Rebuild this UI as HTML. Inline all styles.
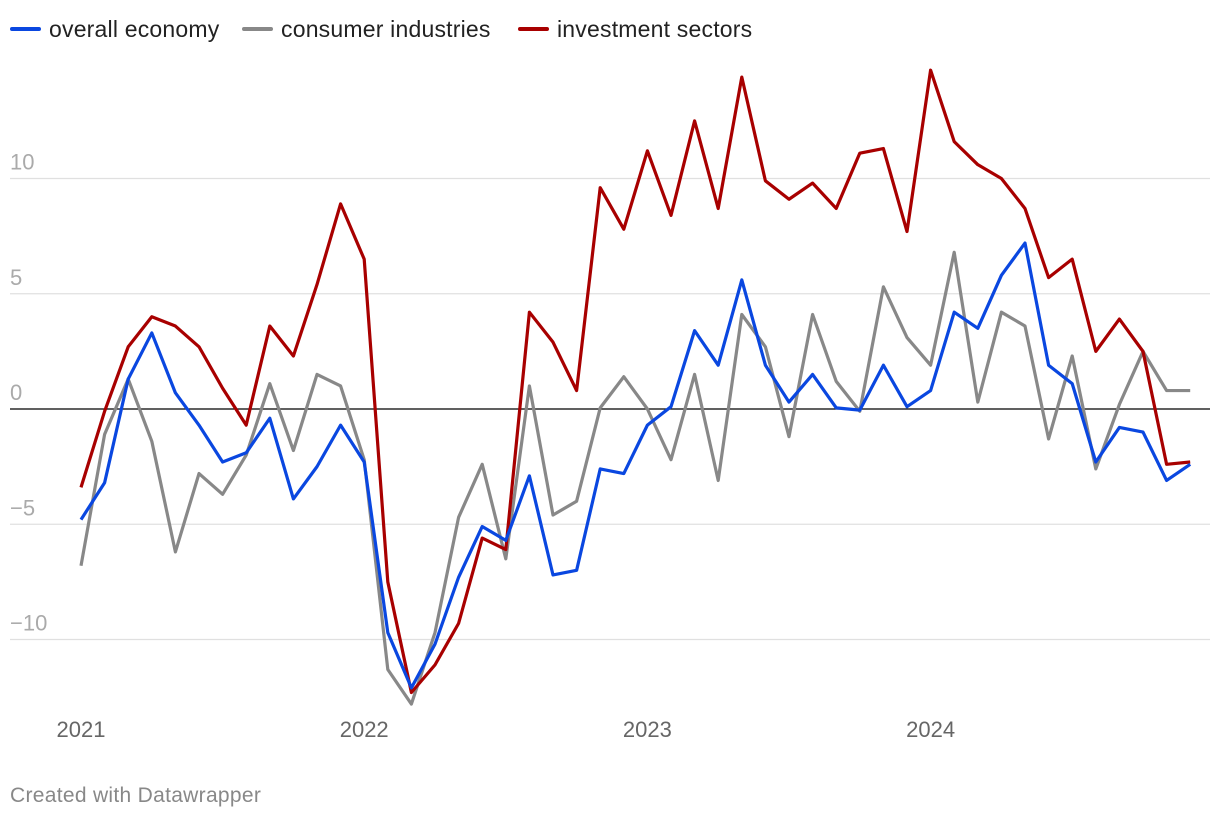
<!DOCTYPE html>
<html><head><meta charset="utf-8"><style>
body{margin:0;background:#fff;font-family:"Liberation Sans",sans-serif;}
#wrap{position:relative;width:1220px;height:820px;}
.leg{position:absolute;top:16px;font-size:23px;color:#222;white-space:nowrap;letter-spacing:0.2px}
.sw{display:inline-block;width:31px;height:4px;border-radius:2px;vertical-align:middle;margin-right:8px;position:relative;top:-2px}
</style></head><body>
<div id="wrap">
<div class="leg" style="left:10px"><span class="sw" style="background:#0a47e0"></span>overall economy</div>
<div class="leg" style="left:242px"><span class="sw" style="background:#888"></span>consumer industries</div>
<div class="leg" style="left:518px"><span class="sw" style="background:#a80000"></span>investment sectors</div>
<svg id="svg" width="1220" height="820" style="position:absolute;left:0;top:0"></svg>
<div style="position:absolute;left:10px;top:784px;font-size:21px;color:#888;letter-spacing:0.3px">Created with Datawrapper</div>
</div>
<script>
const yTicks=[10,5,0,-5,-10];
const yTickLabels=["10","5","0","\u22125","\u221210"];
const xTicks=[0,12,24,36];
const xTickLabels=["2021","2022","2023","2024"];
const overall=[-4.8,-3.2,1.3,3.3,0.7,-0.7,-2.3,-1.9,-0.4,-3.9,-2.5,-0.7,-2.3,-9.7,-12.1,-10.2,-7.3,-5.1,-5.7,-2.9,-7.2,-7.0,-2.6,-2.8,-0.7,0.1,3.4,1.9,5.6,1.9,0.3,1.5,0.05,-0.05,1.9,0.1,0.8,4.2,3.5,5.8,7.2,1.9,1.1,-2.3,-0.8,-1.0,-3.1,-2.4];
const consumer=[-6.8,-1.1,1.3,-1.4,-6.2,-2.8,-3.7,-2.0,1.1,-1.8,1.5,1.0,-2.2,-11.3,-12.8,-9.7,-4.7,-2.4,-6.5,1.0,-4.6,-4.0,0.05,1.4,0,-2.2,1.5,-3.1,4.1,2.7,-1.2,4.1,1.2,-0.1,5.3,3.1,1.9,6.8,0.3,4.2,3.6,-1.3,2.3,-2.6,0.2,2.5,0.8,0.8];
const investment=[-3.4,-0.1,2.7,4.0,3.6,2.7,0.9,-0.7,3.6,2.3,5.4,8.9,6.5,-7.5,-12.3,-11.1,-9.3,-5.6,-6.1,4.2,2.9,0.8,9.6,7.8,11.2,8.4,12.5,8.7,14.4,9.9,9.1,9.8,8.7,11.1,11.3,7.7,14.7,11.6,10.6,10.0,8.7,5.7,6.5,2.5,3.9,2.5,-2.4,-2.3];
const NS="http://www.w3.org/2000/svg";
const svg=document.getElementById('svg');
function x(i){return 81+i*23.6;}
function y(v){return 409-v*23.05;}
function mk(t,a){const e=document.createElementNS(NS,t);for(const k in a)e.setAttribute(k,a[k]);svg.appendChild(e);return e;}
yTicks.forEach((v,i)=>{
  const l=mk('line',{x1:10,x2:1210,y1:y(v),y2:y(v),stroke:v===0?'#000':'#e0e0e0','stroke-width':1.3});
  
  
  const t=mk('text',{x:10,y:y(v)-9,'font-size':22,fill:'#aaa','font-family':'Liberation Sans, sans-serif'});
  t.textContent=yTickLabels[i];
  
  
});
xTicks.forEach((v,i)=>{
  const t=mk('text',{x:x(v),y:737,'font-size':22,fill:'#666','text-anchor':'middle','font-family':'Liberation Sans, sans-serif'});
  t.textContent=xTickLabels[i];
  
  
});
function line(d,c,n){
  const p=mk('polyline',{points:d.map((v,i)=>x(i)+','+y(v)).join(' '),fill:'none',stroke:c,'stroke-width':3.2,'stroke-linejoin':'round'});
  
  
}
line(consumer,'#888','line-consumer-industries');
line(investment,'#a80000','line-investment-sectors');
line(overall,'#0a47e0','line-overall-economy');
</script>
</body></html>
